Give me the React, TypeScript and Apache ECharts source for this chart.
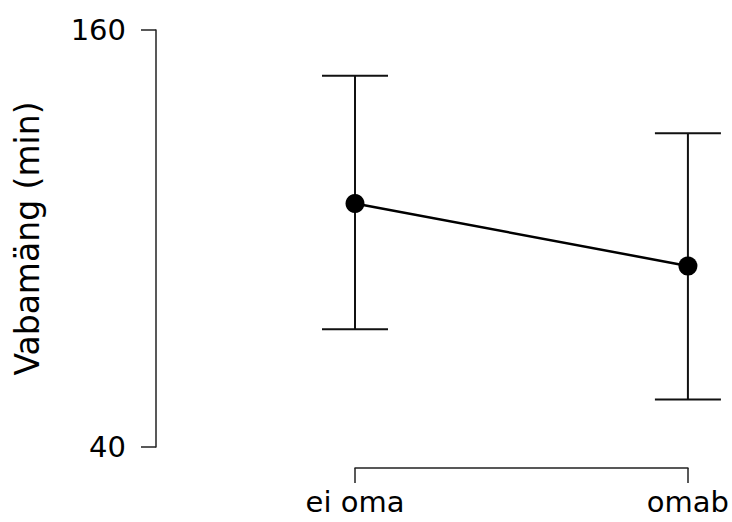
import React, { useEffect, useRef } from "react";
import * as echarts from "echarts";

const categories = ["ei oma", "omab"];
const means = [110.1, 92.1];
const lower = [73.9, 53.7];
const upper = [146.8, 130.3];
const yMin = 40;
const yMax = 160;
const yLabel = "Vabamäng (min)";

export default function App() {
  const ref = useRef<HTMLDivElement>(null);
  useEffect(() => {
    const chart = echarts.init(ref.current!, null, { renderer: "svg" });
    const font = "DejaVu Sans";
    chart.setOption({
      animation: false,
      backgroundColor: "#fff",
      grid: { left: 355, right: 43, top: 30, bottom: 75 },
      xAxis: {
        type: "category",
        data: categories,
        boundaryGap: false,
        offset: 21,
        axisLine: { show: true, lineStyle: { color: "#222", width: 1.5 } },
        axisTick: { show: true, length: 15, inside: false, lineStyle: { color: "#222", width: 1.5 } },
        axisLabel: { margin: 19, color: "#000", fontSize: 29, fontFamily: font },
        splitLine: { show: false },
      },
      yAxis: {
        type: "value",
        min: yMin,
        max: yMax,
        interval: yMax - yMin,
        offset: 199,
        name: yLabel,
        nameLocation: "middle",
        nameGap: 112,
        nameTextStyle: { color: "#000", fontSize: 33, fontFamily: font },
        axisLine: { show: true, lineStyle: { color: "#222", width: 1.5 } },
        axisTick: { show: true, length: 15, lineStyle: { color: "#222", width: 1.5 } },
        axisLabel: { margin: 30, color: "#000", fontSize: 29, fontFamily: font },
        splitLine: { show: false },
      },
      series: [
        {
          type: "custom",
          data: categories.map((c, i) => [i, lower[i], upper[i]]),
          renderItem: (params: any, api: any) => {
            const x = api.value(0);
            const lo = api.coord([x, api.value(1)]);
            const hi = api.coord([x, api.value(2)]);
            const hw = 33;
            const style = { stroke: "#111", lineWidth: 2 };
            return {
              type: "group",
              children: [
                { type: "line", shape: { x1: lo[0], y1: lo[1], x2: hi[0], y2: hi[1] }, style },
                { type: "line", shape: { x1: hi[0] - hw, y1: hi[1], x2: hi[0] + hw, y2: hi[1] }, style },
                { type: "line", shape: { x1: lo[0] - hw, y1: lo[1], x2: lo[0] + hw, y2: lo[1] }, style },
              ],
            };
          },
          z: 1,
        },
        {
          type: "line",
          data: means,
          symbol: "circle",
          symbolSize: 19,
          itemStyle: { color: "#000" },
          lineStyle: { color: "#000", width: 2.5 },
          z: 2,
        },
      ],
    });
    return () => chart.dispose();
  }, []);
  return <div ref={ref} style={{ width: 732, height: 522, position: "absolute", left: 0, top: 0 }} />;
}
